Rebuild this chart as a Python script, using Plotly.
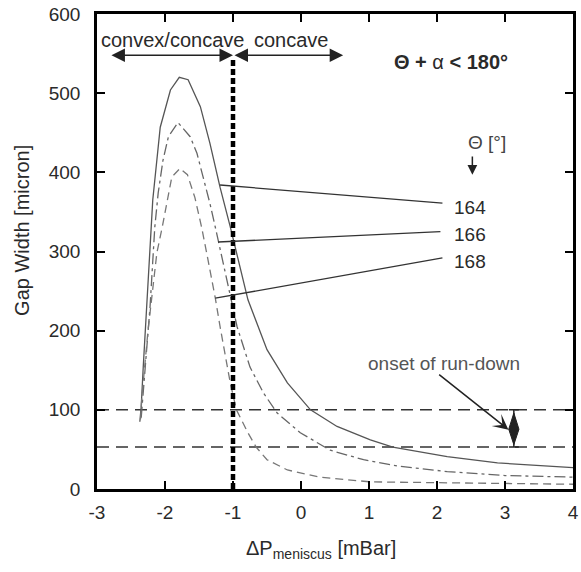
import plotly.graph_objects as go

# ---- data ----
theta_labels = ["164", "166", "168"]

x_164 = [-2.37, -2.35, -2.32, -2.26, -2.22, -2.18, -2.07, -1.92, -1.79, -1.66, -1.48, -1.34,
         -1.19, -1.04, -0.78, -0.50, -0.20, 0.14, 0.53, 1.02, 1.35, 2.15, 2.89, 4.0]
y_164 = [85, 104, 154, 239, 298, 365, 457, 504, 520, 517, 483, 437,
         381, 331, 239, 176, 134, 100, 79, 62, 53, 41, 33, 27]

x_166 = [-2.35, -2.30, -2.22, -2.15, -2.10, -2.03, -1.95, -1.81, -1.63, -1.53, -1.44, -1.34,
         -1.24, -0.94, -0.75, -0.55, -0.35, -0.01, 0.43, 0.92, 1.42, 2.15, 3.0, 4.0]
y_166 = [90, 140, 230, 331, 374, 415, 445, 463, 445, 424, 394, 361,
         323, 205, 154, 121, 96, 71, 49, 37, 29, 22, 17, 15]

x_168 = [-2.36, -2.34, -2.25, -2.12, -2.04, -1.97, -1.90, -1.78, -1.67, -1.56, -1.46, -1.38,
         -1.31, -1.26, -1.19, -1.11, -1.04, -0.95, -0.78, -0.66, -0.50, -0.20, 0.28, 1.02,
         2.0, 3.0, 4.0]
y_168 = [88, 116, 200, 298, 331, 365, 394, 405, 397, 368, 330, 295,
         265, 241, 205, 167, 134, 100, 71, 53, 37, 24, 15, 9,
         8, 7, 6]

# leader lines: curve point -> label point
leader_start_x = [-1.19, -1.22, -1.26]
leader_start_y = [384, 312, 241]
leader_end_x = [2.08, 2.05, 2.08]
leader_end_y = [361, 325, 292]
label_y = [356, 322, 287]

run_down_levels = [53, 100]
boundary_x = -1
x_ticks = [-3, -2, -1, 0, 1, 2, 3, 4]
x_tick_text = ["-3", "-2", "-1", "0", "1", "2", "3", "4"]
y_ticks = [0, 100, 200, 300, 400, 500, 600]
y_tick_text = ["0", "100", "200", "300", "400", "500", "600"]

FONT = "Liberation Sans, Arial, sans-serif"
TXT = "#2a2a2a"

fig = go.Figure()

# run-down band lines
for lvl in run_down_levels:
    fig.add_trace(go.Scatter(x=[-3, 4], y=[lvl, lvl], mode="lines",
                             line=dict(color="#333333", width=1.5, dash="12px,7px"),
                             showlegend=False, hoverinfo="skip"))

# curves
fig.add_trace(go.Scatter(x=x_164, y=y_164, mode="lines", name="164",
                         line=dict(color="#555555", width=1.3), showlegend=False))
fig.add_trace(go.Scatter(x=x_166, y=y_166, mode="lines", name="166",
                         line=dict(color="#666666", width=1.3, dash="11px,4px,3px,4px"),
                         showlegend=False))
fig.add_trace(go.Scatter(x=x_168, y=y_168, mode="lines", name="168",
                         line=dict(color="#777777", width=1.3, dash="8px,5px"),
                         showlegend=False))

# boundary convex/concave
fig.add_trace(go.Scatter(x=[boundary_x, boundary_x], y=[0, 545], mode="lines",
                         line=dict(color="black", width=4.5, dash="6px,3px"),
                         showlegend=False, hoverinfo="skip"))

# leader lines
for i in range(3):
    fig.add_trace(go.Scatter(x=[leader_start_x[i], leader_end_x[i]],
                             y=[leader_start_y[i], leader_end_y[i]], mode="lines",
                             line=dict(color="#333333", width=1.3),
                             showlegend=False, hoverinfo="skip"))

# run-down marker: capped bar + diamond
bx = 3.13
lo, hi = run_down_levels
mid = (lo + hi) / 2
fig.add_trace(go.Scatter(x=[bx], y=[mid], mode="markers",
                         marker=dict(size=1, color="#222222"),
                         error_y=dict(type="data", array=[hi - mid], arrayminus=[mid - lo],
                                      color="#222222", thickness=1.5, width=5),
                         showlegend=False, hoverinfo="skip"))
hw = 0.075
fig.add_trace(go.Scatter(x=[bx, bx + hw, bx, bx - hw, bx],
                         y=[hi - 4, mid - 1, lo + 3, mid - 1, hi - 4],
                         mode="lines", fill="toself", fillcolor="#222222",
                         line=dict(color="#222222", width=1),
                         showlegend=False, hoverinfo="skip"))

ann = []
# labels 164/166/168
for i, t in enumerate(theta_labels):
    ann.append(dict(x=2.22, y=label_y[i], text=t, showarrow=False, xanchor="left",
                    yanchor="middle", font=dict(size=19, color=TXT, family=FONT)))

# top arrows
for x0, x1 in [(-2.81, boundary_x), (boundary_x, 0.62)]:
    ann.append(dict(x=x1, y=548, ax=x0, ay=548, xref="x", yref="y", axref="x", ayref="y",
                    text="", showarrow=True, arrowhead=2, arrowside="end+start",
                    arrowsize=1.8, arrowwidth=1.5, arrowcolor="#222222"))

ann.append(dict(x=-2.97, y=567, text="convex/concave", showarrow=False, xanchor="left",
                yanchor="middle", font=dict(size=20, color=TXT, family=FONT)))
ann.append(dict(x=-0.72, y=567, text="concave", showarrow=False, xanchor="left",
                yanchor="middle", font=dict(size=20, color=TXT, family=FONT)))
ann.append(dict(x=2.2, y=539, text="<b>Θ + </b>α<b> &lt; 180°</b>", showarrow=False,
                xanchor="center", yanchor="middle", font=dict(size=20, color=TXT, family=FONT)))
ann.append(dict(x=2.73, y=438, text="Θ [°]", showarrow=False, xanchor="center",
                yanchor="middle", font=dict(size=19, color="#444444", family=FONT)))
ann.append(dict(x=2.52, y=397, ax=2.52, ay=422, xref="x", yref="y", axref="x", ayref="y",
                text="", showarrow=True, arrowhead=2, arrowsize=1.3, arrowwidth=1.5,
                arrowcolor="#222222"))
ann.append(dict(x=2.1, y=159, text="onset of run-down", showarrow=False, xanchor="center",
                yanchor="middle", font=dict(size=19, color="#555555", family=FONT)))
ann.append(dict(x=3.05, y=75, ax=2.01, ay=146, xref="x", yref="y", axref="x", ayref="y",
                text="", showarrow=True, arrowhead=3, arrowsize=1.7, arrowwidth=1.5,
                arrowcolor="#222222"))

# axis titles
ann.append(dict(x=0.4706, y=-0.128, xref="paper", yref="paper",
                text="ΔP<sub>meniscus</sub> [mBar]", showarrow=False, xanchor="center",
                yanchor="middle", font=dict(size=20, color=TXT, family=FONT)))
ann.append(dict(x=-0.158, y=0.545, xref="paper", yref="paper", text="Gap Width [micron]",
                showarrow=False, textangle=-90, xanchor="center", yanchor="middle",
                font=dict(size=20, color=TXT, family=FONT)))

axis_common = dict(showline=True, linecolor="black", linewidth=2.5, mirror="allticks",
                   ticks="inside", ticklen=8, tickwidth=1.5, tickcolor="black",
                   showgrid=False, zeroline=False, automargin=False,
                   tickfont=dict(size=19, color=TXT, family=FONT))

fig.update_layout(
    width=581, height=572,
    margin=dict(l=97, r=8, t=14, b=83),
    plot_bgcolor="white", paper_bgcolor="white",
    xaxis=dict(range=[-3, 4], tickvals=x_ticks, ticktext=x_tick_text,
               ticklabelstandoff=4, **axis_common),
    yaxis=dict(range=[0, 600], tickvals=y_ticks, ticktext=y_tick_text,
               ticklabelstandoff=10, **axis_common),
    annotations=ann,
    showlegend=False,
)

fig.write_html("out.html", config={"displayModeBar": False},
               post_script="document.body.style.margin='0';document.body.style.overflow='hidden';")
